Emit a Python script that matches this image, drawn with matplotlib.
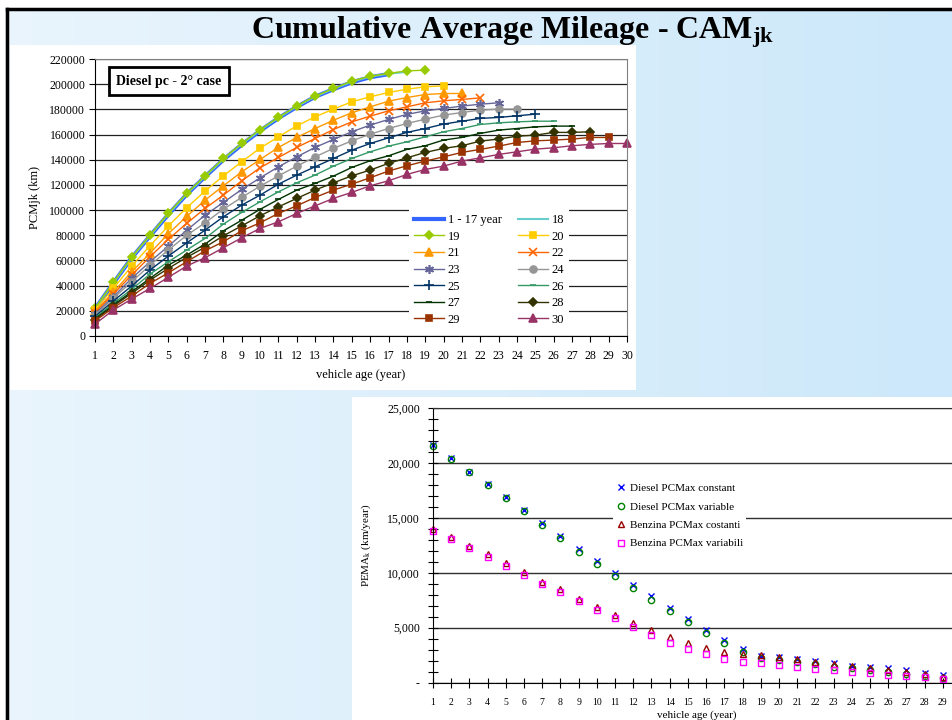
import numpy as np
import matplotlib
matplotlib.use('Agg')
import matplotlib.pyplot as plt
from matplotlib.patches import Rectangle
from matplotlib.colors import LinearSegmentedColormap
from matplotlib.ticker import FuncFormatter, MultipleLocator

plt.rcParams['font.family'] = ['Liberation Serif', 'DejaVu Serif']
plt.rcParams['mathtext.fontset'] = 'custom'
plt.rcParams['mathtext.rm'] = 'Liberation Serif'
plt.rcParams['mathtext.it'] = 'Liberation Serif:italic'
plt.rcParams['mathtext.bf'] = 'Liberation Serif:bold'

# ---- top chart: cumulative mileage per vehicle age (km) ----
labels_top = ['1 - 17 year', '18', '19', '20', '21', '22', '23', '24',
              '25', '26', '27', '28', '29', '30']
s17 = [21500, 42000, 62000, 79500, 96500, 112500, 126500, 140000, 152000, 163000,
       173000, 182000, 190000, 196000, 201500, 205500, 208000]
s18 = [21800, 42300, 62200, 79800, 97000, 112900, 126800, 140500, 152500, 163500,
       173300, 182400, 190200, 196300, 202000, 206000, 208300, 209800]
s19 = [22000, 42600, 62500, 80200, 97400, 113300, 127200, 141000, 152900, 164000,
       173600, 182800, 190500, 196600, 202400, 206400, 208500, 210600, 211100]
s20 = [20600, 37800, 55600, 71700, 87400, 101900, 115100, 127200, 138400, 149200,
       158200, 166900, 174100, 180200, 186000, 190000, 193400, 196000, 197900, 198700]
s21 = [19500, 34800, 51000, 65800, 81300, 95000, 107900, 119300, 130400, 140200,
       149800, 157700, 164800, 171400, 177300, 182000, 186500, 189400, 191800, 192600,
       192600]
s22 = [18500, 33300, 48400, 63000, 76800, 89500, 101300, 111900, 123300, 133600,
       141800, 149800, 156900, 164000, 170100, 174600, 178800, 182000, 185200, 186800,
       187900, 189100]
s23 = [17500, 31200, 45800, 59000, 71400, 84000, 96000, 106100, 116400, 125600,
       134400, 142300, 149800, 156100, 162200, 167500, 172000, 176000, 178800, 180700,
       182600, 184100, 185200]
s24 = [16500, 29900, 43100, 56300, 68300, 80000, 89900, 100800, 110100, 119000,
       127200, 134900, 142300, 149000, 155000, 160300, 164800, 168800, 172200, 175400,
       177500, 179400, 180200, 180200]
s25 = [15500, 27800, 39700, 52400, 63500, 74000, 84100, 94700, 104000, 111900,
       120600, 127800, 134400, 141000, 147600, 152900, 157400, 161700, 164800, 168300,
       170600, 172800, 173600, 174900, 176200]
s26 = [14500, 26000, 37100, 49200, 59000, 68300, 77500, 88900, 98200, 106600,
       114500, 121700, 127800, 134900, 141000, 146300, 150800, 154200, 158200, 162200,
       164800, 168000, 169300, 170100, 170600, 170600]
s27 = [13500, 24600, 35200, 45800, 56300, 64300, 73000, 83500, 92000, 100600,
       108500, 115900, 121200, 127000, 133900, 139200, 143100, 148200, 151100, 155600,
       157700, 160900, 163500, 164800, 166100, 166700, 166700]
s28 = [13000, 23800, 33900, 44400, 53700, 62500, 70500, 79600, 87500, 95500,
       102600, 109300, 115900, 121700, 127200, 131800, 137100, 141500, 145800, 149000,
       151100, 154800, 156400, 158700, 159500, 161700, 161700, 162200]
s29 = [11900, 22500, 31700, 41800, 50200, 59000, 67700, 74900, 83600, 89900,
       97400, 103400, 110100, 115900, 120600, 125700, 131000, 135200, 138900, 142300,
       145800, 148200, 150800, 153700, 155000, 155600, 156400, 157700, 157700]
s30 = [9500, 20600, 29400, 37800, 46600, 55600, 62200, 70100, 78000, 85500,
       90700, 97400, 103400, 109300, 114100, 119300, 123300, 128300, 132300, 134900,
       138900, 141500, 144200, 146300, 148400, 149500, 151100, 152200, 152900, 152900]
series_top = [s17, s18, s19, s20, s21, s22, s23, s24, s25, s26, s27, s28, s29, s30]

# ---- bottom chart: average yearly mileage (km/year) ----
age_bottom = list(range(1, 30))
diesel_const = [21670, 20450, 19230, 18080, 16890, 15740, 14520, 13370, 12180, 11110,
                10020, 8900, 7890, 6830, 5790, 4790, 3880, 3060, 2450, 2360,
                2140, 1960, 1750, 1530, 1440, 1290, 1140, 900, 680]
diesel_var = [21600, 20400, 19200, 18000, 16800, 15600, 14400, 13160, 11880, 10780,
              9720, 8590, 7530, 6520, 5490, 4550, 3580, 2810, 2200, 2050,
              1840, 1660, 1440, 1290, 1140, 990, 750, 620, 380]
benz_const = [14000, 13300, 12480, 11700, 10880, 10050, 9200, 8500, 7620, 6920,
              6160, 5400, 4790, 4180, 3580, 3180, 2810, 2570, 2510, 2360,
              2140, 1900, 1690, 1510, 1350, 1140, 930, 750, 470]
benz_var = [13850, 13060, 12240, 11420, 10630, 9810, 8990, 8230, 7440, 6620,
            5860, 5090, 4330, 3580, 3030, 2570, 2140, 1900, 1810, 1600,
            1390, 1230, 1140, 990, 840, 680, 590, 470, 320]
labels_bottom = ['Diesel PCMax constant', 'Diesel PCMax variable',
                 'Benzina PCMax costanti', 'Benzina PCMax variabili']

W, H = 952, 720
fig = plt.figure(figsize=(W / 100, H / 100), dpi=100)


def px_axes(x0, y0, x1, y1, **kw):
    return fig.add_axes([x0 / W, 1 - y1 / H, (x1 - x0) / W, (y1 - y0) / H], **kw)


# slide background, border, white chart panels, title
bg = fig.add_axes([0, 0, 1, 1], zorder=-10)
bg.set_xlim(0, W)
bg.set_ylim(H, 0)
bg.axis('off')
cmap_bg = LinearSegmentedColormap.from_list('bg', ['#eaf5fd', '#cce8fa'])
bg.imshow(np.linspace(0, 1, 256)[None, :], extent=[0, W, H, 0], cmap=cmap_bg,
          aspect='auto')
bg.add_patch(Rectangle((0, 0), W, 8, fc='white', ec='none'))
bg.add_patch(Rectangle((0, 0), 5, H, fc='white', ec='none'))
bg.plot([6.5, 6.5], [H, 9], color='black', lw=2.5, solid_capstyle='projecting')
bg.plot([6.5, W], [9, 9], color='black', lw=2.5, solid_capstyle='projecting')
bg.add_patch(Rectangle((10, 45), 626, 345, fc='white', ec='none'))
bg.add_patch(Rectangle((352, 397), 600, 323, fc='white', ec='none'))
bg.text(513, 32, r'Cumulative Average Mileage - CAM$_{\mathbf{jk}}$', ha='center',
        va='center', fontsize=23, fontweight='bold')

# ---- top chart ----
colors_top = ['#3366ff', '#66cccc', '#99cc00', '#ffcc00', '#ff9900', '#ff6600',
              '#666699', '#969696', '#003366', '#339966', '#003300', '#333300',
              '#993300', '#993366']
markers_top = ['_', '_', 'D', 's', '^', 'x', (6, 2, 0), 'o', '+', '_', '_', 'D',
               's', '^']
msizes = [4, 4, 4, 5, 5.5, 5.5, 6.5, 5, 6.5, 4, 5, 4, 5, 5.5]

ax1 = px_axes(95, 59, 627, 336)
handles = []
for vals, lab, c, m, ms in zip(series_top, labels_top, colors_top, markers_top, msizes):
    ages = np.arange(1, len(vals) + 1)
    lw = 3 if lab == '1 - 17 year' else 1.5 if lab == '18' else 1
    h, = ax1.plot(ages, vals, color=c, lw=lw, marker=m, ms=ms, mew=1.2,
                  mfc=c, mec=c, label=lab, clip_on=False)
    handles.append(h)

ax1.set_xlim(1, 30)
ax1.set_ylim(0, 220000)
ax1.set_xticks(range(1, 31))
ax1.yaxis.set_major_locator(MultipleLocator(20000))
ax1.grid(axis='y', color='#202020', lw=0.9)
ax1.set_axisbelow(True)
ax1.tick_params(axis='both', direction='out', length=4, labelsize=8.5, width=0.8)
ax1.tick_params(axis='x', pad=6)
ax1.tick_params(axis='y', pad=3)
for side in ['left', 'bottom']:
    ax1.spines[side].set_color('black')
for side in ['top', 'right']:
    ax1.spines[side].set_color('#808080')
ax1.set_xlabel('vehicle age (year)', fontsize=9, labelpad=5)
ax1.set_ylabel('PCMjk (km)', fontsize=9, labelpad=6)

order = [0, 2, 4, 6, 8, 10, 12, 1, 3, 5, 7, 9, 11, 13]
leg1 = ax1.legend([handles[i] for i in order], [labels_top[i] for i in order],
                  ncol=2, loc='upper left', bbox_to_anchor=(409, 209),
                  bbox_transform=bg.transData, fontsize=9, frameon=True,
                  fancybox=False, facecolor='white', edgecolor='none', framealpha=1,
                  borderpad=0.4, labelspacing=0.37, handlelength=2.4,
                  handletextpad=0.3, columnspacing=1.3, borderaxespad=0)
leg1.set_zorder(5)

ax1.text(169, 81, 'Diesel pc - 2\u00b0 case', transform=bg.transData, ha='center',
         va='center', fontsize=10, fontweight='bold',
         bbox=dict(boxstyle='square,pad=0.55', fc='white', ec='black', lw=2))

# ---- bottom chart ----
ax2 = px_axes(433, 408.3, 961, 682.5)
ax2.plot(age_bottom, diesel_const, ls='none', marker='x', ms=4.5, mew=1,
         color='#0000ff', label=labels_bottom[0], clip_on=False)
ax2.plot(age_bottom, diesel_var, ls='none', marker='o', ms=4.5, mew=1,
         mfc='none', mec='#008000', label=labels_bottom[1], clip_on=False)
ax2.plot(age_bottom, benz_const, ls='none', marker='^', ms=4.5, mew=1,
         mfc='none', mec='#990000', label=labels_bottom[2], clip_on=False)
ax2.plot(age_bottom, benz_var, ls='none', marker='s', ms=4.5, mew=1,
         mfc='none', mec='#ff00ff', label=labels_bottom[3], clip_on=False)

ax2.set_xlim(1, 30)
ax2.set_ylim(0, 25000)
ax2.set_xticks(range(1, 31))
ax2.yaxis.set_major_locator(MultipleLocator(5000))
ax2.yaxis.set_minor_locator(MultipleLocator(1000))
ax2.yaxis.set_major_formatter(FuncFormatter(lambda v, p: '-' if v == 0 else f'{v:,.0f}'))
ax2.grid(axis='y', which='major', color='#303030', lw=1)
ax2.set_axisbelow(True)
ax2.tick_params(axis='both', which='both', direction='inout', length=7, width=0.8)
ax2.tick_params(axis='x', labelsize=7, pad=8)
ax2.tick_params(axis='y', labelsize=8.5, pad=6)
ax2.spines['right'].set_visible(False)
ax2.spines['top'].set_color('#303030')
ax2.set_xlabel('vehicle age (year)', fontsize=8, labelpad=2)
ax2.set_ylabel(r'PEMA$_\mathrm{k}$ (km/year)', fontsize=8, labelpad=10)
ax2.legend(loc='upper left', bbox_to_anchor=(613, 480), bbox_transform=bg.transData,
           fontsize=8, frameon=True, fancybox=False, facecolor='white',
           edgecolor='none', framealpha=1, borderpad=0.3, labelspacing=0.78,
           handlelength=0.8, handletextpad=0.4, borderaxespad=0)

fig.savefig('out.png', dpi=100)
